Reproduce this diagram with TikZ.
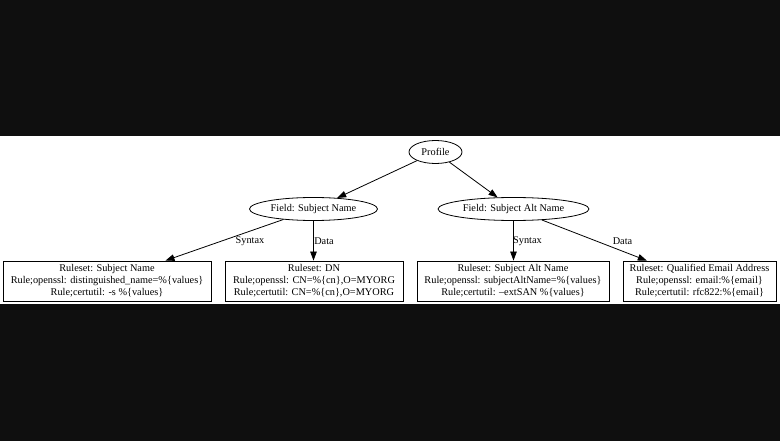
\documentclass[tikz,border=0pt]{standalone}
\usepackage{fontspec}
\setmainfont{Liberation Serif}
\usetikzlibrary{shapes.geometric,arrows.meta}
\begin{document}
\begin{tikzpicture}[x=1pt,y=-1pt,
  every node/.style={font=\fontsize{10.3pt}{12pt}\selectfont},
  oval/.style={draw=black,line width=0.8pt,ellipse,inner sep=0pt,minimum height=23pt},
  rulebox/.style={draw=black,line width=0.8pt,rectangle,inner sep=0pt,minimum height=40pt,align=center},
  conn/.style={draw=black,line width=0.8pt,-{Triangle[length=9pt,width=6.5pt]}},
  lbl/.style={inner sep=0pt}]
\useasboundingbox (0,0) rectangle (780,441);
\fill[black!94] (0,0) rectangle (780,441);
\fill[white] (0,136) rectangle (780,304);

\node[oval,minimum width=53pt] (profile) at (435.5,152) {Profile};
\node[oval,minimum width=128pt] (fsn) at (313.5,209) {Field: Subject Name};
\node[oval,minimum width=151pt] (fsan) at (513.5,209) {Field: Subject Alt Name};

\node[rulebox,minimum width=208pt] (b1) at (107,281) {Ruleset: Subject Name\\Rule;openssl: distinguished\_name=\%\{values\}\\Rule;certutil: -s \%\{values\}};
\node[rulebox,minimum width=178pt] (b2) at (314,281) {Ruleset: DN\\Rule;openssl: CN=\%\{cn\},O=MYORG\\Rule;certutil: CN=\%\{cn\},O=MYORG};
\node[rulebox,minimum width=192pt] (b3) at (513,281) {Ruleset: Subject Alt Name\\Rule;openssl: subjectAltName=\%\{values\}\\Rule;certutil: --extSAN \%\{values\}};
\node[rulebox,minimum width=153pt] (b4) at (699.5,281) {Ruleset: Qualified Email Address\\Rule;openssl: email:\%\{email\}\\Rule;certutil: rfc822:\%\{email\}};

\draw[conn] (profile) -- (fsn);
\draw[conn] (profile) -- (fsan);
\draw[conn] (fsn) -- (b1);
\draw[conn] (fsn.south) -- (fsn.south |- b2.north);
\draw[conn] (fsan.south) -- (fsan.south |- b3.north);
\draw[conn] (fsan) -- (b4);

\node[lbl] (l1) at (250,241.5) {Syntax};
\node[lbl] (l2) at (324,241.5) {Data};
\node[lbl] (l3) at (527.5,241.5) {Syntax};
\node[lbl] (l4) at (622.5,241.5) {Data};
\end{tikzpicture}
\end{document}
